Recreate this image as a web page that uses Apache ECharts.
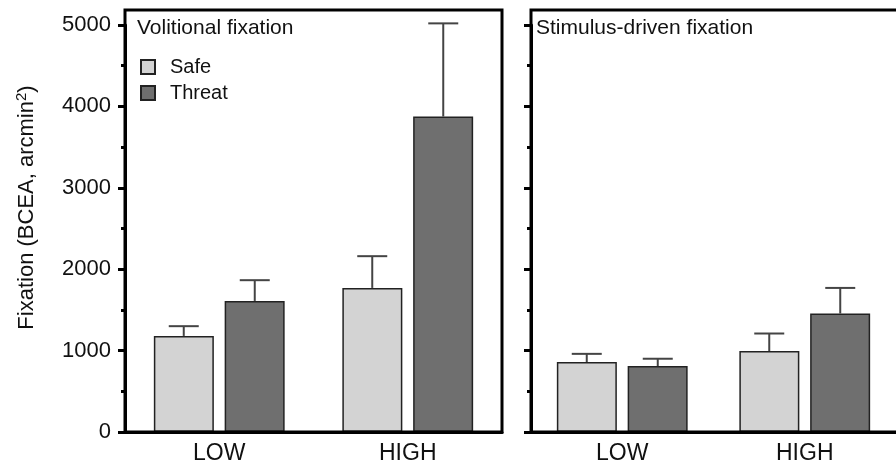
<!DOCTYPE html>
<html>
<head>
<meta charset="utf-8">
<script src="https://cdn.jsdelivr.net/npm/echarts@6/dist/echarts.min.js"></script>
<style>
  html, body { margin: 0; padding: 0; background: #fff; }
  #chart { width: 896px; height: 468px; }
</style>
</head>
<body>
<div id="chart"></div>
<script>
// values (arcmin^2), upper ends of the error bars kept separately
const categories = ['LOW', 'HIGH']
const volSafe = [1180, 1770]
const volSafeTop = [1300, 2160]
const volThreat = [1610, 3875]
const volThreatTop = [1865, 5020]
const stimSafe = [860, 995]
const stimSafeTop = [960, 1210]
const stimThreat = [810, 1455]
const stimThreatTop = [900, 1770]
const yTicks = [0, 1000, 2000, 3000, 4000, 5000]

const FONT = "'Liberation Sans', Arial, sans-serif"
const SAFE_COLOR = '#d3d3d3'
const THREAT_COLOR = '#6f6f6f'
const BAR_W = 60
const OFFSET = 35.5 // half bar + half gap

const chart = echarts.init(document.getElementById('chart'))

function errorBars (offset) {
  return function (params, api) {
    const base = api.coord([api.value(0), api.value(1)])
    const top = api.coord([api.value(0), api.value(2)])
    const cx = base[0] + offset
    const style = { stroke: '#444', lineWidth: 2 }
    return {
      type: 'group',
      children: [
        { type: 'line', shape: { x1: cx, y1: base[1], x2: cx, y2: top[1] }, style: style },
        { type: 'line', shape: { x1: cx - 15, y1: top[1], x2: cx + 15, y2: top[1] }, style: style }
      ]
    }
  }
}

function pairs (means, tops) {
  return categories.map((c, i) => [i, means[i], tops[i]])
}

function xAxis (gridIndex) {
  return {
    type: 'category',
    gridIndex: gridIndex,
    data: categories,
    axisLine: { lineStyle: { color: '#000', width: 3 } },
    axisTick: { alignWithLabel: true, length: 7, lineStyle: { color: '#000', width: 3 } },
    axisLabel: { color: '#111', fontSize: 23, fontFamily: FONT, margin: 10 }
  }
}

function yAxis (gridIndex, showLabels) {
  return {
    type: 'value',
    gridIndex: gridIndex,
    min: 0,
    max: 5000,
    interval: 1000,
    name: showLabels ? 'Fixation (BCEA, arcmin{sup|2})' : '',
    nameLocation: 'middle',
    nameGap: 86,
    nameTextStyle: {
      color: '#111',
      fontSize: 22,
      fontFamily: FONT,
      padding: [0, 0, 0, 42],
      rich: { sup: { fontSize: 15, fontFamily: FONT, color: '#111', padding: [0, 0, 10, 0] } }
    },
    splitLine: { show: false },
    axisLine: { show: true, lineStyle: { color: '#000', width: 3 } },
    axisTick: { show: true, length: 7, lineStyle: { color: '#000', width: 3 } },
    minorTick: { show: true, splitNumber: 2, length: 4, lineStyle: { color: '#000', width: 3 } },
    axisLabel: {
      show: showLabels,
      color: '#111',
      fontSize: 22,
      fontFamily: FONT,
      margin: 14,
      formatter: v => (yTicks.indexOf(v) >= 0 ? String(v) : '')
    }
  }
}

function barSeries (name, idx, values, color) {
  return {
    name: name,
    type: 'bar',
    xAxisIndex: idx,
    yAxisIndex: idx,
    data: values,
    barWidth: BAR_W,
    barGap: '18%',
    itemStyle: { color: color, borderColor: '#222', borderWidth: 1.5 }
  }
}

function errSeries (idx, means, tops, offset) {
  return {
    type: 'custom',
    xAxisIndex: idx,
    yAxisIndex: idx,
    renderItem: errorBars(offset),
    data: pairs(means, tops),
    z: 5,
    silent: true
  }
}

const titleStyle = { fontSize: 21, fontWeight: 'normal', color: '#111', fontFamily: FONT }

const option = {
  animation: false,
  backgroundColor: '#fff',
  textStyle: { fontFamily: FONT },
  title: [
    { text: 'Volitional fixation', left: 137, top: 18, padding: 0, textStyle: titleStyle },
    { text: 'Stimulus-driven fixation', left: 536, top: 18, padding: 0, textStyle: titleStyle }
  ],
  legend: {
    data: ['Safe', 'Threat'],
    orient: 'vertical',
    left: 140,
    top: 57,
    padding: 0,
    itemWidth: 14,
    itemHeight: 14,
    itemGap: 6,
    icon: 'rect',
    textStyle: { fontSize: 20, lineHeight: 14, color: '#111', fontFamily: FONT, padding: [0, 0, 0, 10] }
  },
  grid: [
    { left: 125, top: 25, width: 377, bottom: 36 },
    { left: 531, top: 25, width: 376, bottom: 36 }
  ],
  xAxis: [xAxis(0), xAxis(1)],
  yAxis: [yAxis(0, true), yAxis(1, false)],
  graphic: [
    { type: 'rect', shape: { x: 125, y: 10, width: 377, height: 422 }, style: { fill: null, stroke: '#000', lineWidth: 3 }, z: 10, silent: true },
    { type: 'rect', shape: { x: 531, y: 10, width: 400, height: 422 }, style: { fill: null, stroke: '#000', lineWidth: 3 }, z: 10, silent: true }
  ],
  series: [
    barSeries('Safe', 0, volSafe, SAFE_COLOR),
    barSeries('Threat', 0, volThreat, THREAT_COLOR),
    errSeries(0, volSafe, volSafeTop, -OFFSET),
    errSeries(0, volThreat, volThreatTop, OFFSET),
    barSeries('Safe', 1, stimSafe, SAFE_COLOR),
    barSeries('Threat', 1, stimThreat, THREAT_COLOR),
    errSeries(1, stimSafe, stimSafeTop, -OFFSET),
    errSeries(1, stimThreat, stimThreatTop, OFFSET)
  ]
}

chart.setOption(option)
window.addEventListener('resize', () => {
  chart.resize()
})
</script>
</body>
</html>
